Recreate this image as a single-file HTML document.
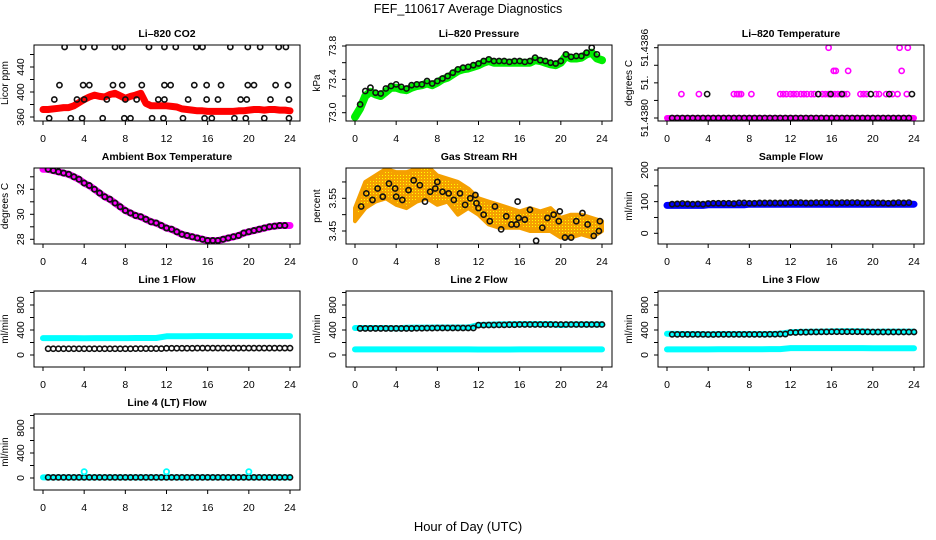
<!DOCTYPE html>
<html><head><meta charset="utf-8"><style>
body{margin:0;background:#fff}
svg{display:block;font-family:"Liberation Sans",sans-serif}
</style></head><body>
<svg id="c" width="936" height="540" viewBox="0 0 936 540">
<text x="468" y="13" text-anchor="middle" font-size="12.5">FEF_110617  Average Diagnostics</text>
<text x="468" y="531" text-anchor="middle" font-size="13">Hour of Day (UTC)</text>
<defs>
<pattern id="rhpat" width="3" height="3" patternUnits="userSpaceOnUse"><rect width="3" height="3" fill="#f5a000"/><rect x="1" y="1" width="1" height="1" fill="#ff0"/></pattern>
</defs>
</svg>
<script>
const H = [0,0.5,1,1.5,2,2.5,3,3.5,4,4.5,5,5.5,6,6.5,7,7.5,8,8.5,9,9.5,10,10.5,11,11.5,12,12.5,13,13.5,14,14.5,15,15.5,16,16.5,17,17.5,18,18.5,19,19.5,20,20.5,21,21.5,22,22.5,23,23.5,24];
const HH = [0,1,2,3,4,5,6,7,8,9,10,11,12,13,14,15,16,17,18,19,20,21,22,23,24];
const xTicks = [0,4,8,12,16,20,24];
// CO2
const co2Red = [372,372,373,374,375,375,378,383,388,392,395,393,392,396,398,394,390,393,395,398,382,378,378,378,378,377,376,373,372,371,370,370,369,369,369,369,369,369,370,370,371,372,372,371,372,372,371,371,370];
const co2BlackT = [2.1,3.9,5,7,7.7,10.3,11.8,12.9,14.9,15.5,18.2,19.9,21.1,22.9,23.6, 1.6,3.9,4.5,6.8,7.7,9.6,11.8,12.4,14.7,15.9,17.3,19.9,20.5,22.6,23.8, 1.1,3.3,4,6.2,8,9.1,11.2,11.8,14.1,15.9,17,19.2,19.8,22.1,23.9, 0.6,2.7,3.8,5.8,7.9,8.5,10.6,11.7,13.6,15.7,16.4,18.6,19.7,21.5,23.9];
const co2BlackV = [472,472,472,472,472,472,472,472,472,472,472,472,472,472,472, 411,411,411,411,411,411,411,411,411,411,411,411,411,411,411, 388,388,388,388,388,388,388,388,388,388,388,388,388,388,388, 358,358,358,358,358,358,358,358,358,358,358,358,358,358,358];
// Pressure
const presGreen = [72.95,73.05,73.2,73.25,73.22,73.2,73.25,73.3,73.3,73.28,73.27,73.3,73.32,73.33,73.35,73.33,73.36,73.4,73.42,73.46,73.5,73.52,73.53,73.55,73.57,73.6,73.62,73.6,73.6,73.6,73.6,73.6,73.6,73.6,73.6,73.63,73.62,73.6,73.58,73.57,73.6,73.68,73.65,73.65,73.66,73.7,73.72,73.65,73.63];
const presBlack = [73.0,73.1,73.26,73.3,73.24,73.23,73.29,73.32,73.34,73.31,73.29,73.33,73.34,73.34,73.38,73.35,73.38,73.41,73.44,73.48,73.52,73.54,73.55,73.57,73.59,73.62,73.64,73.62,73.62,73.62,73.61,73.62,73.62,73.61,73.62,73.66,73.63,73.62,73.6,73.59,73.62,73.7,73.67,73.68,73.68,73.72,73.78,73.7,73.65];
// Li-820 temperature
const tempMagT = [1.4,3.1,6.5,6.8,7,7.2,8.2,11,11.3,11.6,12,12.3,12.6,13,13.3,13.6,14,14.3,15.1,15.4,15.7,16,16.3,16.6,16.9,17.2,17.5,18.8,19.1,19.4,20.3,20.6,21.3,21.9,22.4,23.3, 16.2,16.4,17.6,22.8, 15.7,22.6,23.4];
const tempMagV = [51.438204,51.438204,51.438204,51.438204,51.438204,51.438204,51.438204,51.438204,51.438204,51.438204,51.438204,51.438204,51.438204,51.438204,51.438204,51.438204,51.438204,51.438204,51.438204,51.438204,51.438204,51.438204,51.438204,51.438204,51.438204,51.438204,51.438204,51.438204,51.438204,51.438204,51.438204,51.438204,51.438204,51.438204,51.438204,51.438204, 51.438402,51.438402,51.438402,51.438402, 51.4386,51.4386,51.4386];
const tempBlkT = [3.9,14.7,15.9,17,19.8,21.6,23.8];
const tempBlkV = [51.438204,51.438204,51.438204,51.438204,51.438204,51.438204,51.438204];
const tempBase = 51.4380;
// Ambient
const ambMag = [33.6,33.6,33.5,33.4,33.3,33.2,33.0,32.8,32.5,32.3,32.0,31.7,31.4,31.2,30.9,30.6,30.3,30.1,29.9,29.8,29.6,29.4,29.3,29.1,28.9,28.8,28.6,28.4,28.3,28.2,28.1,28.0,27.9,27.9,27.9,28.0,28.1,28.2,28.3,28.5,28.6,28.7,28.8,28.9,29.0,29.05,29.1,29.1,29.1];
// RH
const rhUpper = [3.52,3.60,3.62,3.64,3.63,3.63,3.64,3.65,3.62,3.61,3.60,3.58,3.55,3.54,3.53,3.52,3.51,3.52,3.51,3.52,3.49,3.50,3.50,3.49,3.48];
const rhLower = [3.48,3.52,3.54,3.55,3.53,3.52,3.54,3.55,3.53,3.54,3.50,3.52,3.50,3.47,3.46,3.46,3.46,3.45,3.45,3.45,3.43,3.43,3.44,3.43,3.45];
const rhBlkT = [0.6,1.1,1.7,2.2,2.7,3.3,3.9,4,4.6,5.2,5.7,6.3,6.8,7.3,7.8,8,8.5,9.1,9.6,10.2,10.7,11.2,11.7,11.8,12,12.5,13.1,13.6,14.2,14.7,15.2,15.7,15.8,15.9,16.5,17,17.6,18.2,18.7,19.3,19.8,19.9,20.4,21,21.5,22.1,22.6,23.2,23.7,23.8];
const rhBlkV = [3.525,3.565,3.545,3.58,3.555,3.595,3.58,3.555,3.545,3.575,3.605,3.59,3.54,3.57,3.58,3.6,3.57,3.565,3.545,3.565,3.53,3.55,3.56,3.535,3.52,3.5,3.48,3.525,3.455,3.495,3.47,3.47,3.54,3.49,3.485,3.515,3.42,3.46,3.49,3.5,3.48,3.51,3.43,3.43,3.48,3.505,3.47,3.435,3.45,3.48];
// Sample flow
const sfBlue = [88,88,88,88,88,88,88,88,90,90,90,90,90,90,90,90,92,92,92,92,92,92,92,92,92,92,92,92,92,92,92,92,92,92,92,92,92,92,92,92,92,92,92,92,92,92,92,92,92];
const sfBlack = [92,92,93,94,93,92,93,92,94,95,95,95,95,94,96,96,95,95,96,96,96,96,96,96,97,97,97,96,96,97,97,97,97,96,97,97,97,97,96,96,97,96,96,95,96,97,96,97,96];
// Line flows (hourly)
const l1Cyan = [270,270,270,270,268,270,270,270,270,272,272,272,300,300,300,302,302,302,302,302,302,302,302,302,302];
const l1Black = [100,100,100,100,100,100,100,100,100,102,102,102,108,108,108,110,110,110,110,110,110,110,110,110,110];
const l2CyanHi = [432,432,432,432,425,435,438,438,440,440,440,440,480,485,490,492,495,495,495,495,480,490,490,490,490];
const l2CyanLo = [90,90,90,90,90,90,90,90,90,90,90,90,88,88,88,88,90,90,90,90,90,90,90,90,90];
const l2Black = [425,425,425,425,425,425,428,430,432,432,432,432,478,480,482,485,488,488,488,488,488,488,488,488,488];
const l3CyanHi = [340,338,335,335,330,335,335,335,335,335,335,340,365,370,372,375,378,380,380,378,370,375,375,375,375];
const l3CyanLo = [90,90,90,90,90,92,92,92,92,92,95,95,110,110,110,110,110,110,110,110,108,108,108,108,108];
const l3Black = [330,330,330,330,328,330,330,330,330,330,332,335,360,365,368,370,372,372,372,370,368,368,368,368,368];
const l4Cyan = [10,10,10,10,100,10,10,10,10,10,10,10,100,10,10,10,10,10,10,10,100,10,10,10,10];
const l4Black = [10,10,10,10,10,10,10,10,10,10,10,10,10,10,10,10,10,10,10,10,10,10,10,10,10];

const svg = document.getElementById('c');
const NS = 'http://www.w3.org/2000/svg';
function mk(tag, attrs, parent){const e=document.createElementNS(NS,tag);for(const k in attrs)e.setAttribute(k,attrs[k]);(parent||svg).appendChild(e);return e;}

function panel(cfg){
  const L=34+312*cfg.col, R=300+312*cfg.col, T=45+123*cfg.row, B=121+123*cfg.row;
  const g=mk('g',{});
  
  
  const xs=h=>43+312*cfg.col+h*(247/24);
  const [v1,o1,v2,o2]=cfg.yref;
  const ys=v=>T+o1+(v-v1)*(o2-o1)/(v2-v1);
  const t=mk('text',{x:(L+R)/2,y:T-8,'text-anchor':'middle','font-size':'10.5','font-weight':'bold'},g);t.textContent=cfg.title;
  
  
  const clip='cl'+cfg.row+cfg.col;
  const cp=mk('clipPath',{id:clip},g);mk('rect',{x:L,y:T,width:R-L,height:B-T},cp);
  const plot=mk('g',{'clip-path':'url(#'+clip+')'},g);
  
  
  cfg.draw(plot,xs,ys);
  const box=mk('rect',{x:L,y:T,width:R-L,height:B-T,fill:'none',stroke:'#000','stroke-width':1},g);
  
  
  // x axis
  const xa=mk('g',{},g);
  
  
  mk('line',{x1:xs(0),x2:xs(24),y1:B,y2:B,stroke:'#000'},xa);
  xTicks.forEach(h=>{mk('line',{x1:xs(h),x2:xs(h),y1:B,y2:B+4,stroke:'#000'},xa);
    const tx=mk('text',{x:xs(h),y:B+21,'text-anchor':'middle','font-size':'10.5'},xa);tx.textContent=h;});
  // y axis
  const ya=mk('g',{},g);
  
  
  const tk=cfg.yticks;
  mk('line',{x1:L,x2:L,y1:ys(tk[0]),y2:ys(tk[tk.length-1]),stroke:'#000'},ya);
  tk.forEach((v,i)=>{const y=ys(v);mk('line',{x1:L-4,x2:L,y1:y,y2:y,stroke:'#000'},ya);
    const lab=cfg.ylabels[i];
    if(lab){const tx=mk('text',{x:L-10,y:y,'text-anchor':'middle','font-size':'10.5',transform:`rotate(-90 ${L-10} ${y})`},ya);tx.textContent=lab;}});
  const yt=mk('text',{x:L-26,y:(T+B)/2,'text-anchor':'middle','font-size':'10',transform:`rotate(-90 ${L-26} ${(T+B)/2})`},g);yt.textContent=cfg.ytitle;
  
  
}
function band(p,xs,ys,tArr,vArr,color,w,name){
  const d=tArr.map((t,i)=>(i?'L':'M')+xs(t).toFixed(1)+' '+ys(vArr[i]).toFixed(1)).join(' ');
  const e=mk('path',{d:d,fill:'none',stroke:color,'stroke-width':w,'stroke-linejoin':'round','stroke-linecap':'round'},p);
  
  
}
function pts(p,xs,ys,tArr,vArr,color,sw,name){
  const g=mk('g',{},p);
  
  
  tArr.forEach((t,i)=>mk('circle',{cx:xs(t),cy:ys(vArr[i]),r:2.6,fill:'none',stroke:color,'stroke-width':sw},g));
}
const Hb=H.slice(1,48);
const HHb=[0.5,1.5,2.5,3.5,4.5,5.5,6.5,7.5,8.5,9.5,10.5,11.5,12.5,13.5,14.5,15.5,16.5,17.5,18.5,19.5,20.5,21.5,22.5,23.5];
function halfPts(hArr,vArr){ // evaluate hourly series at a time (lookup nearest)
  return t=>vArr[Math.min(vArr.length-1,Math.round(t))];
}
const linePanel=(name,title,col,row,cyanSets,black)=>panel({name,title,col,row,ytitle:'ml/min',
  yref:[0,64,800,14],yticks:[0,200,400,600,800,1000],ylabels:['0','','400','','800',''],
  draw:(p,xs,ys)=>{
    cyanSets.forEach((s,k)=>{band(p,xs,ys,HH,s,'#00ffff',6,'cyan-series-'+k);});
    const bt=[];const bv=[];
    for(let i=0;i<HH.length-1;i++){bt.push(HH[i]+0.5);bv.push(black[i]);bt.push(HH[i]+1);bv.push(black[i+1]);}
    pts(p,xs,ys,bt,bv,'#111',1.6,'black-points');
    if(name==='line-4-flow-panel'){const st=[],sv=[];HH.forEach((h,i)=>{if(l4Cyan[i]>50){st.push(h);sv.push(l4Cyan[i]);}});pts(p,xs,ys,st,sv,'#00ffff',1.8,'cyan-spike-points');}
  }});

panel({name:'co2-panel',title:'Li–820 CO2',col:0,row:0,ytitle:'Licor ppm',yref:[360,72,440,22],
  yticks:[360,380,400,420,440,460],ylabels:['360','','400','','440',''],
  draw:(p,xs,ys)=>{band(p,xs,ys,H,co2Red,'#ff0000',7,'co2-red-series');pts(p,xs,ys,co2BlackT,co2BlackV,'#111',1.6,'co2-black-points');}});
panel({name:'pressure-panel',title:'Li–820 Pressure',col:1,row:0,ytitle:'kPa',yref:[73.0,67.7,73.8,1],
  yticks:[73.0,73.2,73.4,73.6,73.8],ylabels:['73.0','','73.4','','73.8'],
  draw:(p,xs,ys)=>{band(p,xs,ys,H,presGreen,'#00ee00',8,'pressure-green-series');pts(p,xs,ys,Hb,presBlack.slice(1,48),'#111',1.6,'pressure-black-points');}});
panel({name:'temperature-panel',title:'Li–820 Temperature',col:2,row:0,ytitle:'degrees C',yref:[51.4380,73,51.4386,2.7],
  yticks:[51.4380,51.43815,51.4383,51.43845,51.4386],ylabels:['51.4380','','51.','','51.4386'],
  draw:(p,xs,ys)=>{band(p,xs,ys,[0,24],[tempBase,tempBase],'#ff00ff',6,'temp-magenta-base');
    pts(p,xs,ys,tempMagT,tempMagV,'#ff00ff',1.6,'temp-magenta-points');
    pts(p,xs,ys,Hb,Hb.map(()=>tempBase),'#111',1.6,'temp-black-base-points');
    pts(p,xs,ys,tempBlkT,tempBlkV,'#111',1.6,'temp-black-points');}});
panel({name:'ambient-panel',title:'Ambient Box Temperature',col:0,row:1,ytitle:'degrees C',yref:[28,71.3,32,21.3],
  yticks:[28,29,30,31,32,33],ylabels:['28','','30','','32',''],
  draw:(p,xs,ys)=>{band(p,xs,ys,H,ambMag,'#ff00ff',7,'ambient-magenta-series');pts(p,xs,ys,Hb,ambMag.slice(1,48),'#111',1.8,'ambient-black-points');}});
panel({name:'rh-panel',title:'Gas Stream RH',col:1,row:1,ytitle:'percent',yref:[3.45,63,3.55,30.3],
  yticks:[3.45,3.50,3.55,3.60],ylabels:['3.45','','3.55',''],
  draw:(p,xs,ys)=>{
    const d='M'+HH.map((h,i)=>xs(h).toFixed(1)+' '+ys(rhUpper[i]).toFixed(1)).join(' L')+' L'+HH.slice().reverse().map((h,i)=>xs(h).toFixed(1)+' '+ys(rhLower[HH.length-1-i]).toFixed(1)).join(' L')+' Z';
    const e=mk('path',{d:d,fill:'url(#rhpat)',stroke:'#f5a000','stroke-width':4,'stroke-linejoin':'round'},p);
    
    
    pts(p,xs,ys,rhBlkT,rhBlkV,'#111',1.6,'rh-black-points');}});
panel({name:'sample-flow-panel',title:'Sample Flow',col:2,row:1,ytitle:'ml/min',yref:[0,65.3,200,2],
  yticks:[0,50,100,150,200],ylabels:['0','','100','','200'],
  draw:(p,xs,ys)=>{band(p,xs,ys,H,sfBlue,'#0000ff',7,'sample-flow-blue-series');pts(p,xs,ys,Hb,sfBlack.slice(1,48),'#111',1.6,'sample-flow-black-points');}});
linePanel('line-1-flow-panel','Line 1 Flow',0,2,[l1Cyan],l1Black);
linePanel('line-2-flow-panel','Line 2 Flow',1,2,[l2CyanHi,l2CyanLo],l2Black);
linePanel('line-3-flow-panel','Line 3 Flow',2,2,[l3CyanHi,l3CyanLo],l3Black);
linePanel('line-4-flow-panel','Line 4 (LT) Flow',0,3,[l4Cyan.map(()=>10)],l4Black);
</script>
</body></html>
